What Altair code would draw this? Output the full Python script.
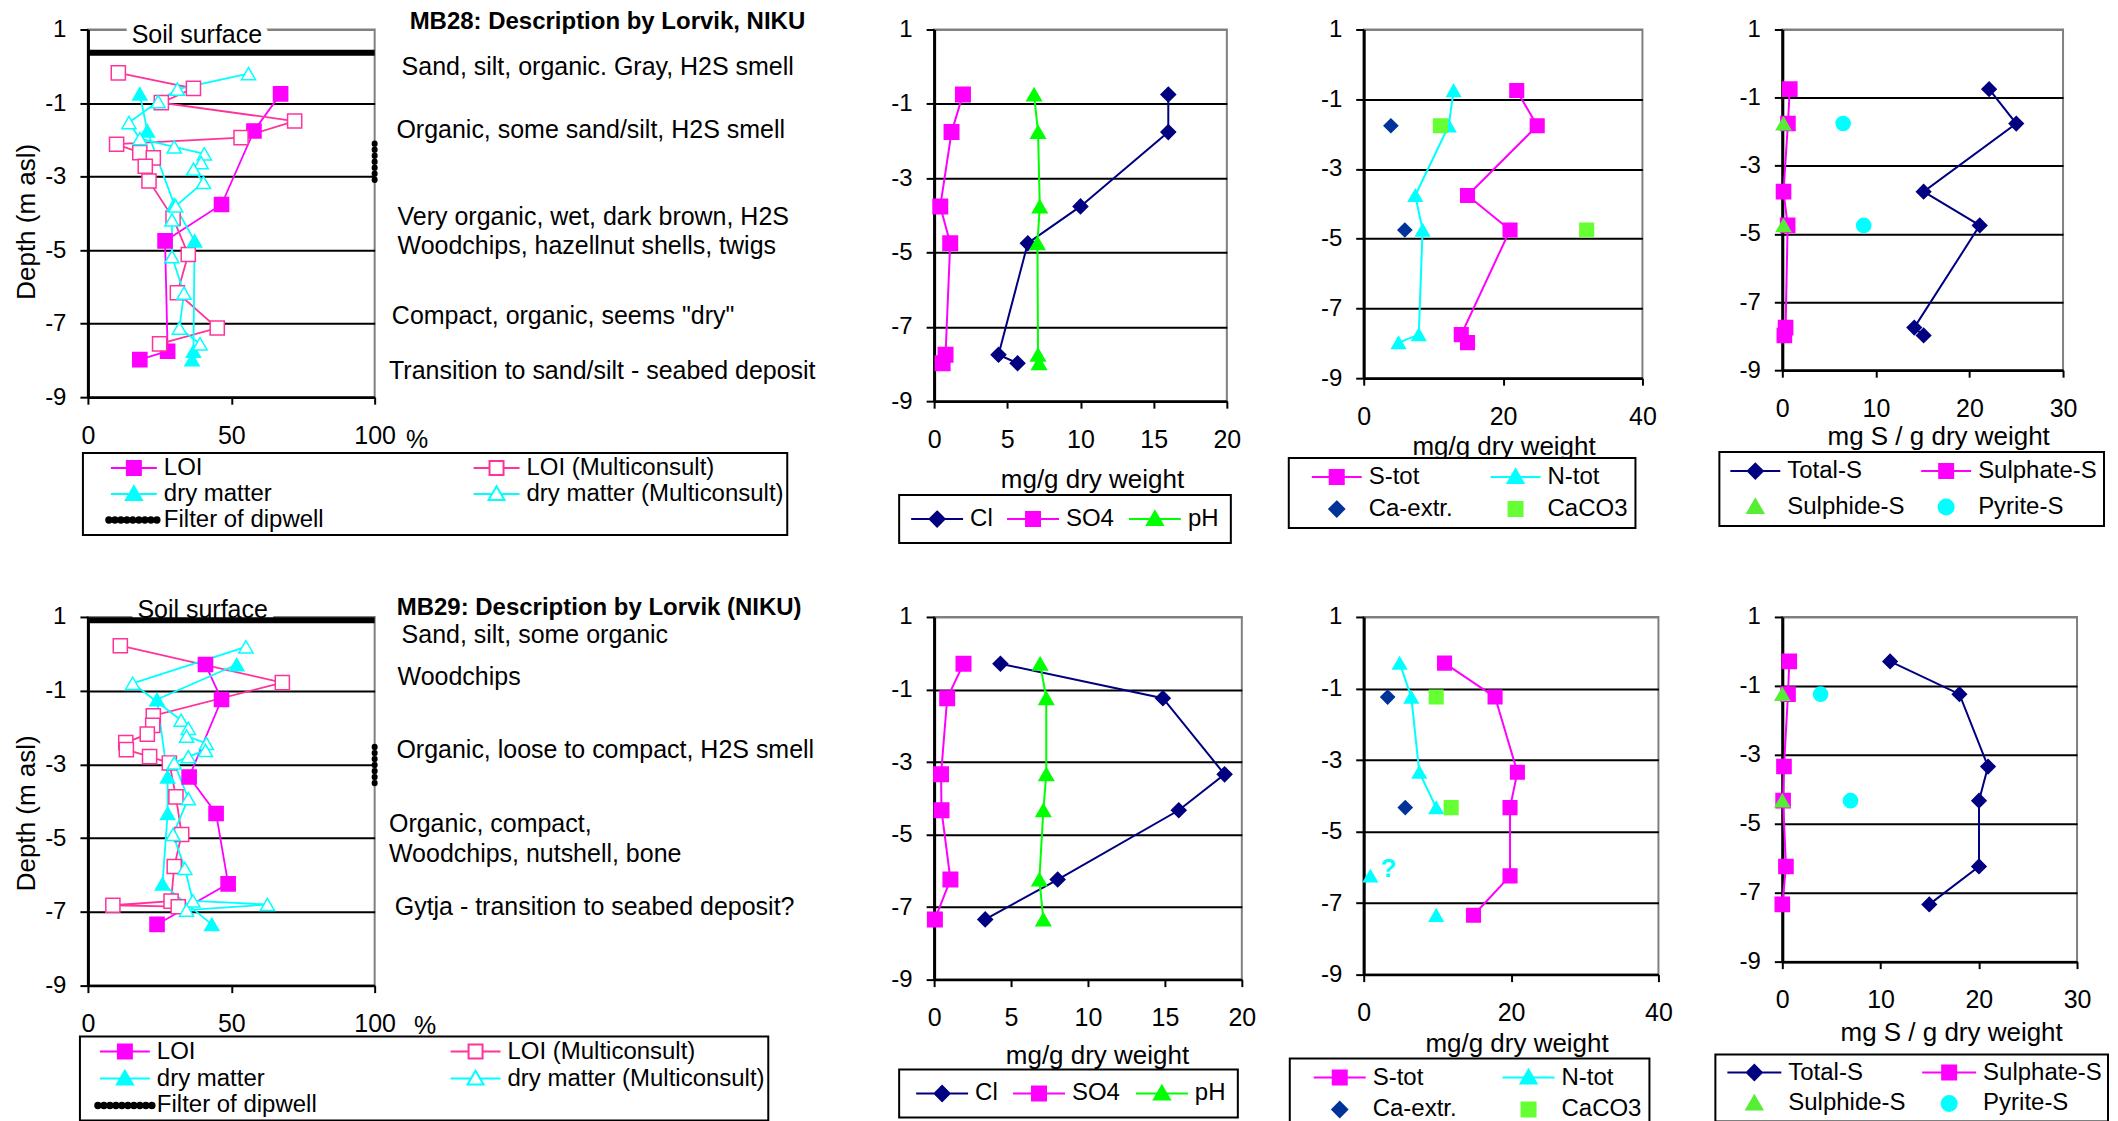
import altair as alt
import pandas as pd

FONT = "Liberation Sans"

# ---------------- tick labels ----------------
Y_TICKS = [1, -1, -3, -5, -7, -9]
P1_TICKS = [0, 50, 100]
P2_TICKS = [0, 5, 10, 15, 20]
P3_TICKS = [0, 20, 40]
P4_TICKS = [0, 10, 20, 30]

# ---------------- sample depths (m asl) ----------------
mb28_depth = [-0.75, -1.76, -3.76, -4.75, -7.75, -7.98]
mb29_depth = [-0.29, -1.24, -3.34, -4.33, -6.24, -7.34]

# ---------------- MB28 : LOI / dry matter (%) ----------------
mb28_loi = [67.2, 57.9, 46.6, 26.9, 27.8, 18.1]
mb28_dry = [18.1, 20.7, 30.1, 37.2, 36.8, 36.3]
mb28_loi_mc = [10.6, 36.8, 25.6, 72.1, 53.4, 10.0, 18.1, 22.8, 20.0, 21.3, 29.7, 35.0, 31.2, 45.1, 25.0]
mb28_loi_mc_depth = [-0.18, -0.60, -0.99, -1.49, -1.94, -2.12, -2.35, -2.49, -2.72, -3.12, -4.13, -5.12, -6.16, -7.12, -7.55]
mb28_dry_mc = [56.0, 31.2, 24.5, 14.3, 18.1, 30.1, 40.6, 39.5, 36.8, 40.3, 30.6, 29.3, 29.3, 33.5, 31.9, 39.1]
mb28_dry_mc_depth = [-0.20, -0.62, -0.96, -1.53, -1.97, -2.19, -2.38, -2.62, -2.80, -3.16, -3.80, -4.18, -5.18, -6.17, -7.12, -7.55]
mb28_soil_surface = [0.37]
mb28_filter = [-2.10, -3.24]

# ---------------- MB29 : LOI / dry matter (%) ----------------
mb29_loi = [41.0, 46.6, 35.3, 44.7, 48.9, 24.1]
mb29_dry = [51.9, 24.1, 27.8, 27.8, 26.0, 43.2]
mb29_loi_mc = [11.3, 67.8, 22.8, 22.6, 20.7, 13.2, 13.4, 21.5, 28.4, 30.7, 32.7, 30.1, 29.0, 8.7, 31.5]
mb29_loi_mc_depth = [0.22, -0.78, -1.68, -1.94, -2.18, -2.41, -2.60, -2.79, -2.96, -3.88, -4.90, -5.77, -6.71, -6.82, -6.86]
mb29_dry_mc = [55.1, 15.6, 32.5, 35.0, 34.4, 41.3, 41.0, 35.0, 30.1, 35.0, 29.7, 33.8, 36.6, 62.6, 34.4]
mb29_dry_mc_depth = [0.19, -0.80, -1.80, -2.02, -2.23, -2.43, -2.62, -2.79, -2.96, -3.93, -4.90, -5.82, -6.70, -6.80, -6.95]
mb29_soil_surface = [0.91]
mb29_filter = [-2.52, -3.64]

# ---------------- Cl / SO4 / pH (mg/g dry weight) ----------------
mb28_cl = [16.0, 16.0, 10.0, 6.4, 4.4, 5.7]
mb28_so4 = [1.97, 1.19, 0.42, 1.10, 0.78, 0.58]
mb28_ph = [6.83, 7.10, 7.22, 7.06, 7.10, 7.17]
mb29_cl = [4.31, 14.87, 18.88, 15.9, 8.03, 3.32]
mb29_so4 = [1.91, 0.85, 0.45, 0.48, 1.06, 0.05]
mb29_ph = [6.89, 7.29, 7.29, 7.10, 6.84, 7.10]

# ---------------- S-tot / N-tot / Ca-extr. / CaCO3 ----------------
mb28_stot = [21.96, 24.9, 14.9, 21.0, 14.0, 14.9]
mb28_ntot = [12.9, 12.2, 7.4, 8.45, 7.9, 5.0]
mb28_ca_depth = [-1.76, -4.75]
mb28_ca = [3.9, 5.9]
mb28_caco3 = [11.0, 32.0]
mb29_stot = [10.97, 17.83, 20.86, 19.86, 19.86, 14.9]
mb29_ntot_line = [4.88, 6.46, 7.54, 9.84]
mb29_ntot_line_depth = [-0.29, -1.24, -3.34, -4.33]
mb29_ntot_single = [0.9, 9.84]
mb29_ntot_single_depth = [-6.24, -7.34]
mb29_ca_depth = [-1.24, -4.33]
mb29_ca = [3.25, 5.64]
mb29_caco3 = [9.84, 11.87]

# ---------------- sulphur species (mg S / g dry weight) ----------------
mb28_total_s = [22.1, 25.0, 15.1, 21.1, 14.1, 15.1]
mb28_sulphate_s = [0.80, 0.60, 0.13, 0.57, 0.35, 0.22]
mb28_sulphide_s = [0.13, 0.13]
mb28_pyrite_s = [6.5, 8.7]
mb29_total_s = [10.97, 18.03, 20.94, 20.02, 20.02, 14.96]
mb29_sulphate_s = [0.71, 0.58, 0.17, 0.08, 0.37, 0.0]
mb29_sulphide_s = [0.0, 0.0]
mb29_pyrite_s = [3.9, 6.94]

# ---------------- text ----------------
mb28_header = "MB28: Description  by Lorvik, NIKU"
mb29_header = "MB29: Description  by Lorvik (NIKU)"
mb28_notes = ["Sand, silt, organic. Gray, H2S smell", "Organic, some sand/silt, H2S smell",
              "Very organic, wet, dark brown, H2S", "Woodchips, hazellnut shells, twigs",
              'Compact, organic, seems "dry"', "Transition to sand/silt - seabed deposit"]
mb28_note_x = [109.4, 107.6, 108.0, 108.0, 106.0, 105.0]
mb28_note_depth = [-0.01, -1.74, -4.10, -4.89, -6.79, -8.29]
mb29_notes = ["Sand, silt, some organic", "Woodchips", "Organic, loose to compact, H2S smell",
              "Organic, compact,", "Woodchips, nutshell, bone", "Gytja - transition to seabed deposit?"]
mb29_note_x = [109.4, 108.0, 107.6, 105.0, 105.0, 107.0]
mb29_note_depth = [0.51, -0.62, -2.62, -4.62, -5.43, -6.88]

# ---------------- series styling (legend order: column by column) ----------------
P1_NAMES = ["LOI", "dry matter", "Filter of dipwell", "LOI (Multiconsult)", "dry matter (Multiconsult)"]
P1_STROKE = ["#FF00FF", "#00FFFF", "#000000", "#FF3399", "#00FFFF"]
P1_FILL = ["#FF00FF", "#00FFFF", "#000000", "#FFFFFF", "#FFFFFF"]
P1_SHAPE = ["square", "triangle-up", "square", "square", "triangle-up"]
P2_NAMES = ["Cl", "SO4", "pH"]
P2_STROKE = ["#000080", "#FF00FF", "#00FF00"]
P2_SHAPE = ["diamond", "square", "triangle-up"]
P3_NAMES = ["S-tot", "Ca-extr.", "N-tot", "CaCO3"]
P3_STROKE = ["#FF00FF", "#003399", "#00FFFF", "#66FF33"]
P3_SHAPE = ["square", "diamond", "triangle-up", "square"]
P4_NAMES = ["Total-S", "Sulphide-S", "Sulphate-S", "Pyrite-S"]
P4_STROKE = ["#000080", "#55EE33", "#FF00FF", "#00FFFF"]
P4_SHAPE = ["diamond", "triangle-up", "square", "circle"]


# ---------------- helpers ----------------
def long_df(series):
    rows = []
    for name, xs, ds in series:
        for i, (x, d) in enumerate(zip(xs, ds)):
            rows.append({"series": name, "x": x, "d": d, "i": i})
    return pd.DataFrame(rows, columns=["series", "x", "d", "i"])


def marker_path(kind):
    if kind == "square":
        return "M-0.7,-0.7H0.7V0.7H-0.7Z", 0.7
    if kind == "triangle":
        return "M0,-0.78L0.8,0.6L-0.8,0.6Z", 0.46
    if kind == "diamond":
        return "M0,-0.75L0.75,0L0,0.75L-0.75,0Z", 0.75
    return "M0.75,0A0.75,0.75,0,1,1,-0.75,0A0.75,0.75,0,1,1,0.75,0Z", 0.75


def sym(kind, half=None):
    p, inner = marker_path(kind)
    if half is None:
        return p
    h = half / 10.0
    return f"M{-h:.2f},0H{-inner:.2f}M{inner:.2f},0H{h:.2f}" + p


def dotted(half):
    h = half / 10.0
    parts = []
    x = -h + 0.3
    while x <= h - 0.3 + 1e-9:
        parts.append(f"M{x + 0.27:.2f},0A0.27,0.27,0,1,1,{x - 0.27:.2f},0A0.27,0.27,0,1,1,{x + 0.27:.2f},0Z")
        x += 0.6
    return "".join(parts)


def make_legend(lx, ly, cols, pad, so, lo, rp, cp, fs=24):
    return alt.Legend(
        title=None, orient="none", legendX=lx, legendY=ly, columns=cols, padding=pad,
        symbolOffset=so, labelOffset=lo, rowPadding=rp, columnPadding=cp,
        labelFontSize=fs, labelFont=FONT, labelColor="black", labelLimit=600,
        strokeColor="black", fillColor="white", symbolSize=400, symbolStrokeWidth=2,
    )


def y_axis(title=None, title_y=0):
    kw = dict(values=Y_TICKS, grid=True,
              gridColor={"condition": {"test": "datum.value == 1", "value": "#808080"}, "value": "black"},
              gridWidth=2, domainColor="black", domainWidth=3, tickColor="black", tickWidth=2,
              tickSize=8, labelPadding=14, labelFontSize=24, labelFont=FONT, labelColor="black",
              labelFlush=False, labelOverlap=False,
              labelExpr="datum.value < 0 ? '-' + abs(datum.value) : '' + datum.value")
    if title:
        kw.update(title=title, titleX=-61, titleY=title_y, titleAngle=270, titleBaseline="middle",
                  titleAlign="center", titleFontSize=26, titleFont=FONT, titleFontWeight="normal",
                  titleColor="black")
    else:
        kw.update(title=None)
    return alt.Axis(**kw)


def x_axis(ticks, title, tx, ty, tfs=26):
    return alt.Axis(values=ticks, grid=False, domainColor="black", domainWidth=2.5,
                    tickColor="black", tickWidth=2, tickSize=7, labelPadding=19, labelFontSize=25,
                    labelFont=FONT, labelColor="black", labelFlush=False, labelOverlap=False,
                    title=title, titleX=tx, titleY=ty, titleBaseline="middle", titleAlign="center",
                    titleFontSize=tfs, titleFont=FONT, titleFontWeight="normal", titleColor="black")


def panel(lines, points, names, strokes, fills, shapes, sym_paths, legend, xdom, xaxis, yaxis, w, h,
          msize=200, lw=2, extras=None):
    xs = alt.Scale(domain=xdom, nice=False, zero=False)
    ys = alt.Scale(domain=[-9, 1], nice=False, zero=False)
    line = alt.Chart(long_df(lines)).mark_line(strokeWidth=lw).encode(
        x=alt.X("x:Q", scale=xs, axis=xaxis),
        y=alt.Y("d:Q", scale=ys, axis=yaxis),
        order=alt.Order("i:Q"),
        stroke=alt.Stroke("series:N", scale=alt.Scale(domain=names, range=strokes), legend=None),
    )
    pts = alt.Chart(long_df(points)).mark_point(size=msize, opacity=1, strokeWidth=1.5).encode(
        x=alt.X("x:Q", scale=xs),
        y=alt.Y("d:Q", scale=ys),
        stroke=alt.Stroke("series:N", scale=alt.Scale(domain=names, range=strokes), legend=None),
        fill=alt.Fill("series:N", scale=alt.Scale(domain=names, range=fills), legend=None),
        shape=alt.Shape("series:N", scale=alt.Scale(domain=names, range=shapes), legend=None),
    )
    # legend-only layer: no rows survive the filter, the scales carry the legend entries
    leg = alt.Chart(long_df(points)).transform_filter("datum.x < -1e9").mark_point(
        size=400, opacity=1, strokeWidth=2).encode(
        x=alt.X("x:Q", scale=xs),
        y=alt.Y("d:Q", scale=ys),
        stroke=alt.Stroke("series:N", scale=alt.Scale(domain=names, range=strokes), legend=legend),
        fill=alt.Fill("series:N", scale=alt.Scale(domain=names, range=fills), legend=legend),
        shape=alt.Shape("series:N", scale=alt.Scale(domain=names, range=sym_paths), legend=legend),
    )
    layers = (extras(xs, ys)[0] if extras else []) + [line, pts, leg] + (extras(xs, ys)[1] if extras else [])
    return alt.layer(*layers).resolve_scale(
        stroke="independent", fill="independent", shape="independent"
    ).properties(width=w, height=h)


def p1_extras(soil, filt, notes, note_x, note_d, header, head_x, head_d, lab_x, lab_d):
    def build(xs, ys):
        X = lambda f: alt.X(f, scale=xs)
        Y = lambda f: alt.Y(f, scale=ys)
        lab_df = pd.DataFrame({"x": [lab_x], "d": [lab_d], "t": ["Soil surface"]})
        halo = alt.Chart(lab_df).mark_text(
            align="center", baseline="middle", fontSize=25, font=FONT, color="white",
            stroke="white", strokeWidth=14, strokeJoin="round").encode(
            x=X("x:Q"), y=Y("d:Q"), text="t:N")
        soil_rule = alt.Chart(pd.DataFrame({"x": [0], "x2": [100], "d": soil})).mark_rule(
            strokeWidth=6, color="black").encode(x=X("x:Q"), x2="x2:Q", y=Y("d:Q"))
        filt_rule = alt.Chart(pd.DataFrame({"x": [100], "d": [filt[0]], "d2": [filt[1]]})).mark_rule(
            strokeWidth=6, color="black", strokeDash=[0.5, 5.5], strokeCap="round").encode(
            x=X("x:Q"), y=Y("d:Q"), y2="d2:Q")
        note_txt = alt.Chart(pd.DataFrame({"x": note_x, "d": note_d, "t": notes})).mark_text(
            align="left", baseline="middle", fontSize=25, font=FONT, color="black").encode(
            x=X("x:Q"), y=Y("d:Q"), text="t:N")
        head_txt = alt.Chart(pd.DataFrame({"x": [head_x], "d": [head_d], "t": [header]})).mark_text(
            align="left", baseline="middle", fontSize=24, font=FONT, fontWeight="bold", color="black").encode(
            x=X("x:Q"), y=Y("d:Q"), text="t:N")
        soil_txt = alt.Chart(lab_df).mark_text(
            align="center", baseline="middle", fontSize=25, font=FONT, color="black").encode(
            x=X("x:Q"), y=Y("d:Q"), text="t:N")
        return [halo, soil_rule], [filt_rule, note_txt, head_txt, soil_txt]
    return build


def question_extra(qx, qd):
    def build(xs, ys):
        return [], [alt.Chart(pd.DataFrame({"x": [qx], "d": [qd], "t": ["?"]})).mark_text(
            align="center", baseline="middle", fontSize=26, font=FONT, fontWeight="bold",
            color="#00FFFF").encode(x=alt.X("x:Q", scale=xs), y=alt.Y("d:Q", scale=ys), text="t:N")]
    return build


def spacer(w):
    return alt.Chart(pd.DataFrame({"v": [0]})).mark_point(opacity=0).encode(
        x=alt.X("v:Q", axis=None), y=alt.Y("v:Q", axis=None)
    ).properties(width=w, height=1, view=alt.ViewBackground(stroke="transparent"))


# ---------------- legend symbols (same order as the names) ----------------
def p1_paths(L, Ld):
    return [sym("square", L), sym("triangle", L), dotted(Ld), sym("square", L), sym("triangle", L)]


def p2_paths(L):
    return [sym("diamond", L), sym("square", L), sym("triangle", L)]


def p3_paths(L):
    return [sym("square", L), sym("diamond"), sym("triangle", L), sym("square")]


def p4_paths(L):
    return [sym("diamond", L), sym("triangle"), sym("square", L), sym("circle")]


# ---------------- panels ----------------
W_TOP = [287, 293, 279, 281]
H_TOP = [368, 372, 349, 341]
W_BOT = [287, 308, 295, 295]
H_BOT = [369, 363, 358, 345]

P1_TOP_SERIES = [("LOI", mb28_loi, mb28_depth), ("LOI (Multiconsult)", mb28_loi_mc, mb28_loi_mc_depth),
                 ("dry matter", mb28_dry, mb28_depth), ("dry matter (Multiconsult)", mb28_dry_mc, mb28_dry_mc_depth)]
P1_BOT_SERIES = [("LOI", mb29_loi, mb29_depth), ("LOI (Multiconsult)", mb29_loi_mc, mb29_loi_mc_depth),
                 ("dry matter", mb29_dry, mb29_depth), ("dry matter (Multiconsult)", mb29_dry_mc, mb29_dry_mc_depth)]

p1a = panel(
    P1_TOP_SERIES, P1_TOP_SERIES,
    P1_NAMES, P1_STROKE, P1_FILL, P1_SHAPE, p1_paths(23, 28),
    make_legend(-5, 424, 2, 3, 36, 18, 2, 124),
    [0, 100], x_axis(P1_TICKS, "%", 329, 42, 25), y_axis("Depth (m asl)", 192),
    W_TOP[0], H_TOP[0], msize=200, lw=1.8,
    extras=p1_extras(mb28_soil_surface, mb28_filter, mb28_notes, mb28_note_x, mb28_note_depth,
                     mb28_header, 112.2, 1.2, 38, 0.85),
)

p1b = panel(
    P1_BOT_SERIES, P1_BOT_SERIES,
    P1_NAMES, P1_STROKE, P1_FILL, P1_SHAPE, p1_paths(25, 30),
    make_legend(-8, 420, 2, 3, 30, 20, 3, 116),
    [0, 100], x_axis(P1_TICKS, "%", 337, 40, 25), y_axis("Depth (m asl)", 196),
    W_BOT[0], H_BOT[0], msize=200, lw=1.8,
    extras=p1_extras(mb29_soil_surface, mb29_filter, mb29_notes, mb29_note_x, mb29_note_depth,
                     mb29_header, 107.7, 1.25, 40, 1.2),
)

P2_TOP_SERIES = [("Cl", mb28_cl, mb28_depth), ("SO4", mb28_so4, mb28_depth), ("pH", mb28_ph, mb28_depth)]
P2_BOT_SERIES = [("Cl", mb29_cl, mb29_depth), ("SO4", mb29_so4, mb29_depth), ("pH", mb29_ph, mb29_depth)]

p2a = panel(
    P2_TOP_SERIES, P2_TOP_SERIES,
    P2_NAMES, P2_STROKE, P2_STROKE, P2_SHAPE, p2_paths(26),
    make_legend(-35, 466, 3, 12, 14, 21, 0, 10),
    [0, 20], x_axis(P2_TICKS, "mg/g dry weight", 158, 78), y_axis(),
    W_TOP[1], H_TOP[1], msize=210,
)

p2b = panel(
    P2_BOT_SERIES, P2_BOT_SERIES,
    P2_NAMES, P2_STROKE, P2_STROKE, P2_SHAPE, p2_paths(26),
    make_legend(-35, 453, 3, 12, 19, 21, 0, 10),
    [0, 20], x_axis(P2_TICKS, "mg/g dry weight", 163, 76), y_axis(),
    W_BOT[1], H_BOT[1], msize=210,
)

p3a = panel(
    [("S-tot", mb28_stot, mb28_depth), ("N-tot", mb28_ntot, mb28_depth)],
    [("S-tot", mb28_stot, mb28_depth), ("N-tot", mb28_ntot, mb28_depth),
     ("Ca-extr.", mb28_ca, mb28_ca_depth), ("CaCO3", mb28_caco3, mb28_ca_depth)],
    P3_NAMES, P3_STROKE, P3_STROKE, P3_SHAPE, p3_paths(25),
    make_legend(-75, 429, 2, 7, 29, 20, 8, 21),
    [0, 40], x_axis(P3_TICKS, "mg/g dry weight", 140, 68), y_axis(),
    W_TOP[2], H_TOP[2], msize=185,
)

p3b = panel(
    [("S-tot", mb29_stot, mb29_depth), ("N-tot", mb29_ntot_line, mb29_ntot_line_depth)],
    [("S-tot", mb29_stot, mb29_depth), ("N-tot", mb29_ntot_line, mb29_ntot_line_depth),
     ("N-tot", mb29_ntot_single, mb29_ntot_single_depth),
     ("Ca-extr.", mb29_ca, mb29_ca_depth), ("CaCO3", mb29_caco3, mb29_ca_depth)],
    P3_NAMES, P3_STROKE, P3_STROKE, P3_SHAPE, p3_paths(26),
    make_legend(-74, 442, 2, 7, 31, 21, 8, 28),
    [0, 40], x_axis(P3_TICKS, "mg/g dry weight", 153, 69), y_axis(),
    W_BOT[2], H_BOT[2], msize=185,
    extras=question_extra(3.35, -6.05),
)

p4a = panel(
    [("Total-S", mb28_total_s, mb28_depth), ("Sulphate-S", mb28_sulphate_s, mb28_depth)],
    [("Total-S", mb28_total_s, mb28_depth), ("Sulphate-S", mb28_sulphate_s, mb28_depth),
     ("Sulphide-S", mb28_sulphide_s, mb28_ca_depth), ("Pyrite-S", mb28_pyrite_s, mb28_ca_depth)],
    P4_NAMES, P4_STROKE, P4_STROKE, P4_SHAPE, p4_paths(25),
    make_legend(-63, 423, 2, 7, 17, 20, 12, 12),
    [0, 30], x_axis(P4_TICKS, "mg S / g dry weight", 156, 66), y_axis(),
    W_TOP[3], H_TOP[3], msize=200,
)

p4b = panel(
    [("Total-S", mb29_total_s, mb29_depth), ("Sulphate-S", mb29_sulphate_s, mb29_depth)],
    [("Total-S", mb29_total_s, mb29_depth), ("Sulphate-S", mb29_sulphate_s, mb29_depth),
     ("Sulphide-S", mb29_sulphide_s, mb29_ca_depth), ("Pyrite-S", mb29_pyrite_s, mb29_ca_depth)],
    P4_NAMES, P4_STROKE, P4_STROKE, P4_SHAPE, p4_paths(27),
    make_legend(-67, 438, 2, 6, 21, 22, 7, 10),
    [0, 30], x_axis(P4_TICKS, "mg S / g dry weight", 169, 71), y_axis(),
    W_BOT[3], H_BOT[3], msize=200,
)

GAPS = [560, 122, 124]
cells = [p1a, spacer(GAPS[0]), p2a, spacer(GAPS[1]), p3a, spacer(GAPS[2]), p4a,
         p1b, spacer(GAPS[0]), p2b, spacer(GAPS[1]), p3b, spacer(GAPS[2]), p4b]

chart = alt.concat(
    *cells, columns=7, spacing=alt.RowColnumber(row=216, column=0), bounds="flush", align="each"
).resolve_scale(
    x="independent", y="independent", stroke="independent", fill="independent", shape="independent"
).resolve_legend(
    stroke="independent", fill="independent", shape="independent"
).configure_view(
    stroke="#808080", strokeWidth=2
).configure_legend(
    strokeWidth=2
).properties(
    padding={"left": 5, "top": 0, "right": 0, "bottom": 0}
)

chart.save("out.html", embed_options={"renderer": "svg", "actions": False})
